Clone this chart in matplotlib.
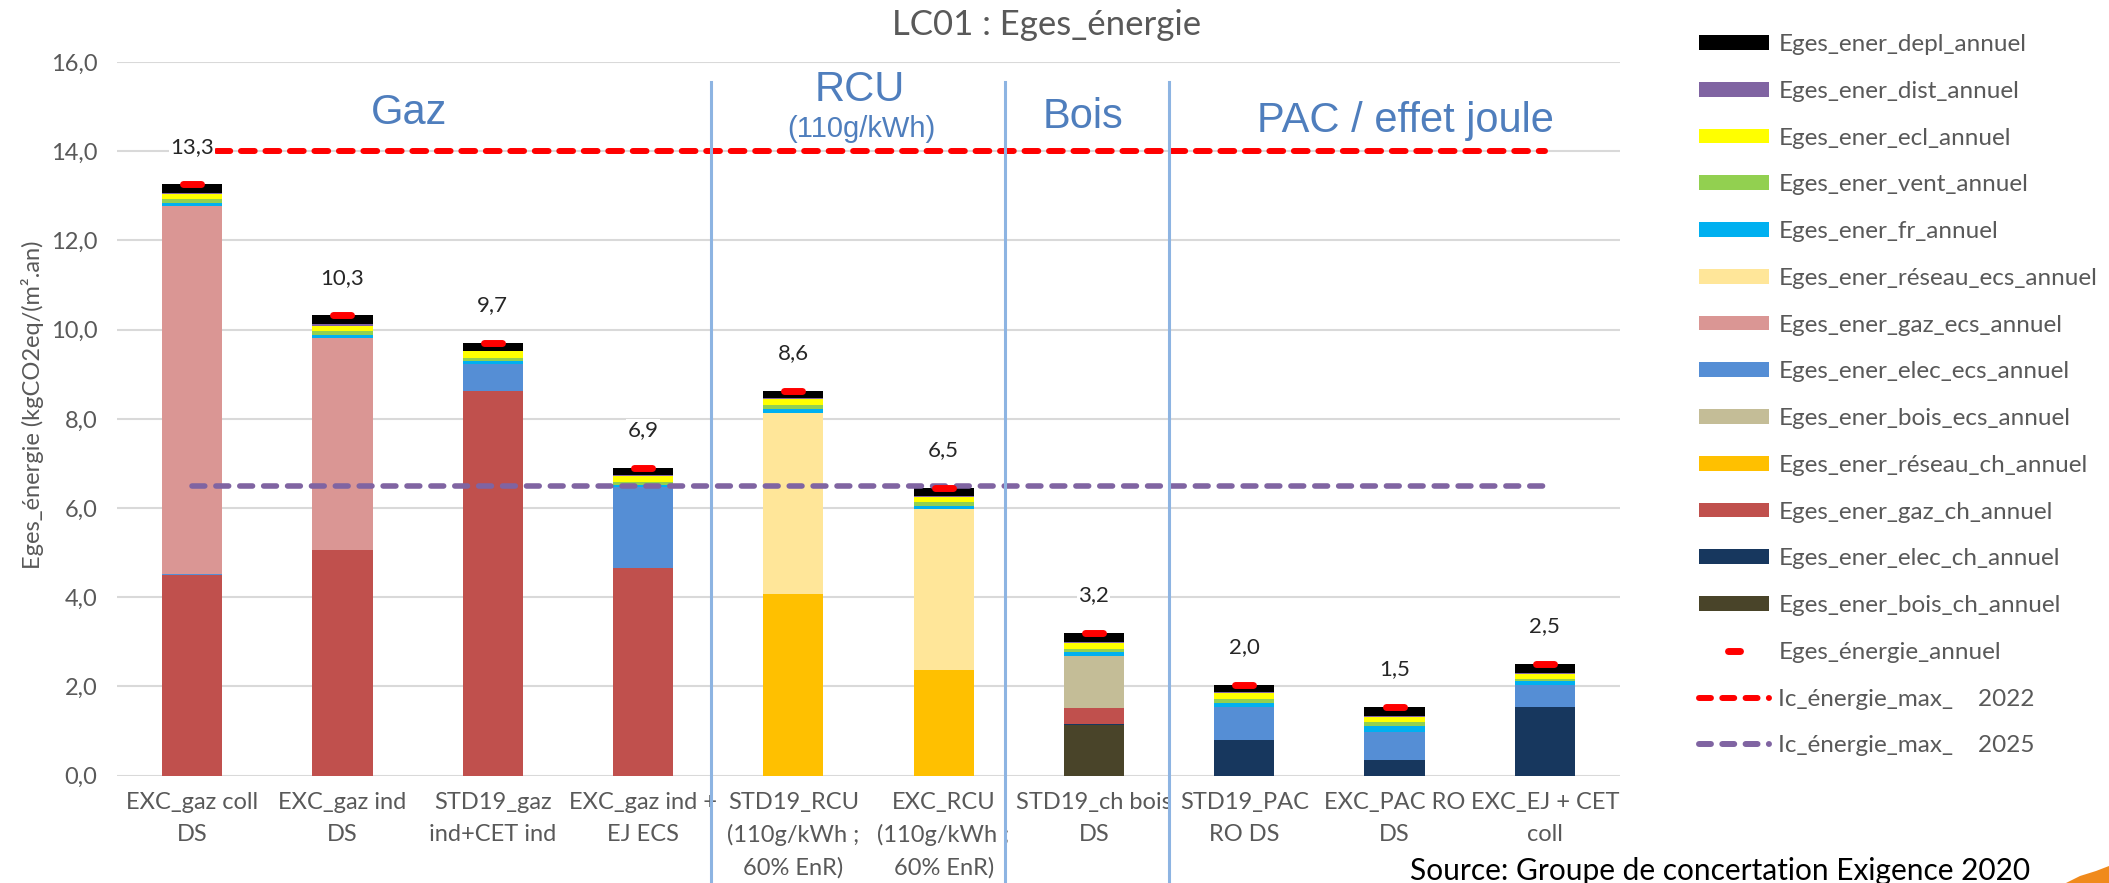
import matplotlib
matplotlib.use("Agg")
import matplotlib.pyplot as plt
import numpy as np
from matplotlib.lines import Line2D
from matplotlib.patches import Patch, Polygon
from matplotlib.markers import MarkerStyle
from matplotlib.ticker import FuncFormatter, MultipleLocator

plt.rcParams['font.family'] = ['Lato', 'DejaVu Sans']

# --- data -------------------------------------------------------------
categories = ["EXC_gaz coll\nDS", "EXC_gaz ind\nDS", "STD19_gaz\nind+CET ind",
              "EXC_gaz ind +\nEJ ECS", "STD19_RCU\n(110g/kWh ;\n60% EnR)",
              "EXC_RCU\n(110g/kWh ;\n60% EnR)", "STD19_ch bois\nDS",
              "STD19_PAC\nRO DS", "EXC_PAC RO\nDS", "EXC_EJ + CET\ncoll"]

# stacked from bottom to top
bois_ch    = [0, 0, 0, 0, 0, 0, 1.14, 0, 0, 0]
elec_ch    = [0, 0, 0, 0, 0, 0, 0.01, 0.80, 0.35, 1.53]
gaz_ch     = [4.50, 5.05, 8.62, 4.65, 0, 0, 0.36, 0, 0, 0]
reseau_ch  = [0, 0, 0, 0, 4.07, 2.36, 0, 0, 0, 0]
bois_ecs   = [0, 0, 0, 0, 0, 0, 1.17, 0, 0, 0]
elec_ecs   = [0.03, 0, 0.60, 1.82, 0, 0, 0, 0.75, 0.64, 0.51]
gaz_ecs    = [8.24, 4.77, 0, 0, 0, 0, 0, 0, 0, 0]
reseau_ecs = [0, 0, 0, 0, 4.06, 3.63, 0, 0, 0, 0]
fr         = [0.06, 0.06, 0.07, 0.05, 0.09, 0.05, 0.10, 0.09, 0.13, 0.08]
vent       = [0.09, 0.09, 0.07, 0.07, 0.10, 0.09, 0.07, 0.08, 0.08, 0.04]
ecl        = [0.11, 0.12, 0.15, 0.12, 0.12, 0.12, 0.13, 0.13, 0.12, 0.13]
dist       = [0.04, 0.03, 0.02, 0.02, 0.02, 0.02, 0.02, 0.02, 0.02, 0.02]
depl       = [0.19, 0.20, 0.17, 0.17, 0.17, 0.19, 0.20, 0.17, 0.20, 0.20]

eges_annuel = [13.26, 10.32, 9.70, 6.90, 8.63, 6.46, 3.20, 2.04, 1.54, 2.51]
ic_max_2022 = 14.0
ic_max_2025 = 6.5

groups = ["Gaz", "RCU", "Bois", "PAC / effet joule"]
group_edges = [3.45, 5.41, 6.50]

stack = [
    ("Eges_ener_bois_ch_annuel", bois_ch, "#494429"),
    ("Eges_ener_elec_ch_annuel", elec_ch, "#17375E"),
    ("Eges_ener_gaz_ch_annuel", gaz_ch, "#C0504D"),
    ("Eges_ener_réseau_ch_annuel", reseau_ch, "#FFC000"),
    ("Eges_ener_bois_ecs_annuel", bois_ecs, "#C4BD97"),
    ("Eges_ener_elec_ecs_annuel", elec_ecs, "#558ED5"),
    ("Eges_ener_gaz_ecs_annuel", gaz_ecs, "#DA9694"),
    ("Eges_ener_réseau_ecs_annuel", reseau_ecs, "#FFE699"),
    ("Eges_ener_fr_annuel", fr, "#00B0F0"),
    ("Eges_ener_vent_annuel", vent, "#92D050"),
    ("Eges_ener_ecl_annuel", ecl, "#FFFF00"),
    ("Eges_ener_dist_annuel", dist, "#8064A2"),
    ("Eges_ener_depl_annuel", depl, "#000000"),
]

GREY = "#595959"
BLUE_TXT = "#4F7EBD"

fig = plt.figure(figsize=(21.09, 8.83), dpi=100)
ax = fig.add_axes([117 / 2109, 1 - 775.7 / 883, (1620 - 117) / 2109, (775.7 - 62) / 883])

x = np.arange(len(categories))
bottom = np.zeros(len(categories))
handles = []
for name, vals, col in stack:
    ax.bar(x, vals, width=0.4, bottom=bottom, color=col, zorder=2)
    bottom += np.array(vals)
    handles.append(Patch(facecolor=col, label=name))
handles = handles[::-1]

# limit lines
ax.plot([x[0], x[-1]], [ic_max_2022] * 2, color="#FF0000", lw=4.3,
        ls=(0, (2.3, 1.8)), dash_capstyle="round", zorder=3)
ax.plot([x[0], x[-1]], [ic_max_2025] * 2, color="#8064A2", lw=4.0,
        ls=(0, (2.3, 2.0)), dash_capstyle="round", zorder=3)

# annual total markers
mk = MarkerStyle("_", capstyle="round")
ax.plot(x, eges_annuel, ls="none", marker=mk, markersize=13, mew=5,
        color="#FF0000", zorder=4)

for xi, v in zip(x, eges_annuel):
    ax.annotate(f"{v:.1f}".replace(".", ","), (xi, v), xytext=(0, 27),
                textcoords="offset points", ha="center", va="center",
                fontsize=16, color="#262626", zorder=6,
                bbox=dict(boxstyle="square,pad=0.05", fc="white", ec="none"))

ax.set_xlim(-0.5, 9.5)
ax.set_ylim(0, 16)
ax.yaxis.set_major_locator(MultipleLocator(2))
ax.yaxis.set_major_formatter(FuncFormatter(lambda v, p: f"{v:.1f}".replace(".", ",")))
ax.set_xticks(x)
ax.set_xticklabels(categories, linespacing=1.6)
ax.tick_params(axis="both", length=0, labelsize=17, labelcolor=GREY)
ax.tick_params(axis="y", pad=14)
ax.tick_params(axis="x", pad=12)
for s in ax.spines.values():
    s.set_visible(False)
ax.yaxis.grid(True, color="#D9D9D9", lw=1.5, zorder=0)
ax.set_axisbelow(True)

# group separators and captions
tr = ax.get_xaxis_transform()
for e in group_edges:
    ax.plot([e, e], [0.972, -0.16], transform=tr, color="#8DB4E2", lw=2.2,
            clip_on=False, zorder=5)
ax.text(1.44, 14.62, groups[0], ha="center", va="baseline", fontsize=30,
        color=BLUE_TXT, family="Liberation Sans")
ax.text(4.44, 15.13, groups[1], ha="center", va="baseline", fontsize=30,
        color=BLUE_TXT, family="Liberation Sans")
ax.text(4.45, 14.31, "(110g/kWh)", ha="center", va="baseline", fontsize=21,
        color=BLUE_TXT, family="Liberation Sans")
ax.text(5.93, 14.53, groups[2], ha="center", va="baseline", fontsize=30,
        color=BLUE_TXT, family="Liberation Sans")
ax.text(8.07, 14.42, groups[3], ha="center", va="baseline", fontsize=30,
        color=BLUE_TXT, family="Liberation Sans")

fig.text(1047 / 2109, 1 - 25 / 883, "LC01 : Eges_énergie", ha="center",
         va="center", fontsize=25, color=GREY)
fig.text(33 / 2109, 1 - 405 / 883, "Eges_énergie (kgCO2eq/(m².an)", rotation=90,
         ha="center", va="center", fontsize=17, color=GREY)

# legend
handles += [
    Line2D([], [], ls="none", marker=mk, markersize=9, mew=5, color="#FF0000",
           label="Eges_énergie_annuel"),
    Line2D([], [], color="#FF0000", lw=4.3, ls=(0, (2.0, 1.9)),
           dash_capstyle="round", label="Ic_énergie_max_    2022"),
    Line2D([], [], color="#8064A2", lw=4.3, ls=(0, (2.0, 1.9)),
           dash_capstyle="round", label="Ic_énergie_max_    2025"),
]
fig.legend(handles=handles, loc="upper left", bbox_to_anchor=(1699 / 2109, 1 - 34 / 883),
           frameon=False, fontsize=17.5, labelcolor=GREY, handlelength=2.9,
           handleheight=0.56, handletextpad=0.37, labelspacing=1.06,
           borderpad=0, borderaxespad=0, numpoints=1)

fig.text(1410 / 2109, 3 / 883, "Source: Groupe de concertation Exigence 2020",
         ha="left", va="baseline", fontsize=21.5, color="black")

# orange corner decoration
fig.patches.append(Polygon([(2066 / 2109, 0), (2080 / 2109, 7 / 883), (2096 / 2109, 12 / 883),
                            (1.0, 17 / 883), (1.0, 0)], closed=True,
                           transform=fig.transFigure, fc="#F08A1C", ec="none"))

fig.savefig("out.png", dpi=100)
